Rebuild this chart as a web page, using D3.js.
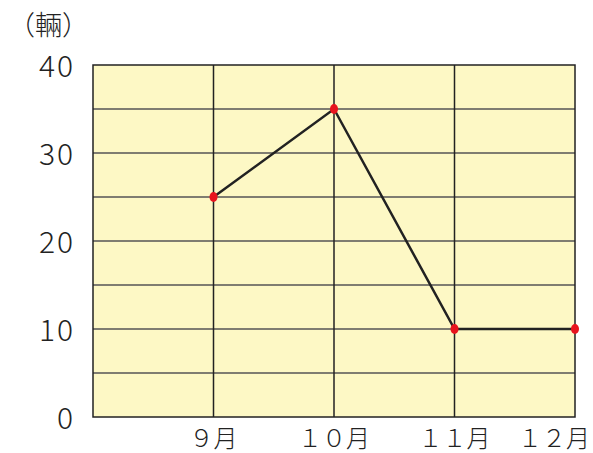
<!DOCTYPE html>
<html>
<head>
<meta charset="utf-8">
<script src="https://cdn.jsdelivr.net/npm/d3@7"></script>
<style>
  body { margin: 0; background: #fff; }
  text { font-family: "Noto Sans CJK JP", "Noto Sans", sans-serif; fill: #222; }
</style>
</head>
<body>
<div id="chart"></div>
<script>
var months = [9, 10, 11, 12];
var monthLabels = ["９月", "１０月", "１１月", "１２月"];
var counts = [25, 35, 10, 10];
var yTicks = [0, 10, 20, 30, 40];
var unitLabel = "（輛）";

var width = 593;
var height = 453;
var plotLeft = 93, plotRight = 575, plotTop = 65, plotBottom = 417;

var svg = d3.select("#chart")
    .append("svg")
    .attr("width", width)
    .attr("height", height);

var x = d3.scaleLinear().domain([8, 12]).range([plotLeft, plotRight]);
var y = d3.scaleLinear().domain([0, 40]).range([plotBottom, plotTop]);

// background
svg.append("rect")
    .attr("x", plotLeft)
    .attr("y", plotTop)
    .attr("width", plotRight - plotLeft)
    .attr("height", plotBottom - plotTop)
    .attr("fill", "#fdf8c5");

// horizontal grid every 5
svg.selectAll(".hgrid")
    .data(d3.range(5, 40, 5))
    .enter().append("line")
    .attr("x1", plotLeft).attr("x2", plotRight)
    .attr("y1", d => y(d)).attr("y2", d => y(d))
    .attr("stroke", "#555")
    .attr("stroke-width", 1.5);

// vertical grid
svg.selectAll(".vgrid")
    .data(months.slice(0, 3))
    .enter().append("line")
    .attr("x1", d => x(d)).attr("x2", d => x(d))
    .attr("y1", plotTop).attr("y2", plotBottom)
    .attr("stroke", "#222")
    .attr("stroke-width", 1.5);

// frame
svg.append("rect")
    .attr("x", plotLeft)
    .attr("y", plotTop)
    .attr("width", plotRight - plotLeft)
    .attr("height", plotBottom - plotTop)
    .attr("fill", "none")
    .attr("stroke", "#222")
    .attr("stroke-width", 1.5);

// y labels
svg.selectAll(".ylab")
    .data(yTicks)
    .enter().append("text")
    .attr("x", 75)
    .attr("y", d => y(d) + 1)
    .attr("dy", "0.36em")
    .attr("text-anchor", "end")
    .attr("font-size", 30)
    .attr("font-weight", 300)
    .attr("letter-spacing", 2)
    .text(d => d);

// unit
svg.append("text")
    .attr("x", 8)
    .attr("y", 35)
    .attr("font-size", 27)
    .attr("font-weight", 300)
    .text(unitLabel);

// x labels
svg.selectAll(".xlab")
    .data(months)
    .enter().append("text")
    .attr("x", d => Math.min(x(d), 554))
    .attr("y", 447)
    .attr("text-anchor", "middle")
    .attr("font-size", 24)
    .attr("font-weight", 300)
    .text((d, i) => monthLabels[i]);

// line
var line = d3.line()
    .x((d, i) => x(months[i]))
    .y(d => y(d));

svg.append("path")
    .datum(counts)
    .attr("d", line)
    .attr("fill", "none")
    .attr("stroke", "#222")
    .attr("stroke-width", 2.5);

svg.selectAll(".pt")
    .data(counts)
    .enter().append("ellipse")
    .attr("cx", (d, i) => x(months[i]))
    .attr("cy", d => y(d))
    .attr("rx", 4)
    .attr("ry", 5)
    .attr("fill", "#e8141e");
</script>
</body>
</html>
